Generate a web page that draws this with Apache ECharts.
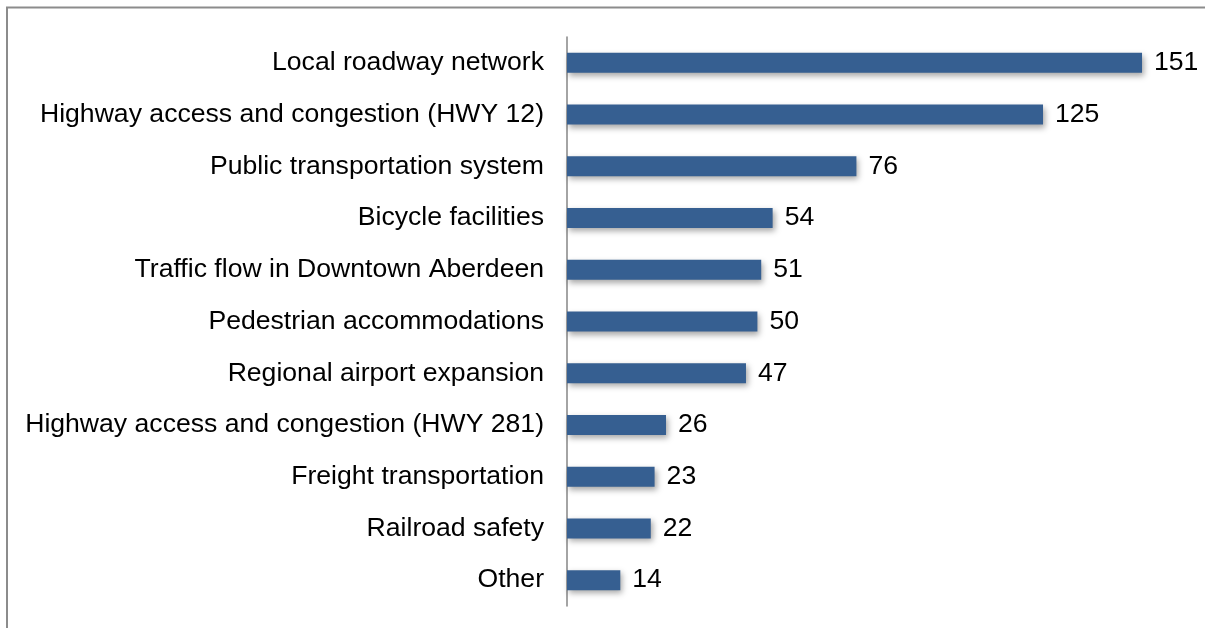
<!DOCTYPE html>
<html>
<head>
<meta charset="utf-8">
<script src="https://cdn.jsdelivr.net/npm/echarts@6/dist/echarts.min.js"></script>
<style>
  html, body { margin: 0; padding: 0; background: #ffffff; }
  #chart { width: 1205px; height: 628px; }
</style>
</head>
<body>
<div id="chart"></div>
<script>
// Transportation issues and number of responses
const categories = [
  'Local roadway network',
  'Highway access and congestion (HWY 12)',
  'Public transportation system',
  'Bicycle facilities',
  'Traffic flow in Downtown Aberdeen',
  'Pedestrian accommodations',
  'Regional airport expansion',
  'Highway access and congestion (HWY 281)',
  'Freight transportation',
  'Railroad safety',
  'Other'
];
const responses = [151, 125, 76, 54, 51, 50, 47, 26, 23, 22, 14];

const chart = echarts.init(document.getElementById('chart'), null, { renderer: 'canvas' });

const font = 'Arial, "Liberation Sans", sans-serif';

chart.setOption({
  animation: false,
  backgroundColor: '#ffffff',
  graphic: [{
    type: 'rect',
    shape: { x: 7, y: 7.5, width: 1400, height: 800 },
    style: { fill: 'none', stroke: '#8c8c8c', lineWidth: 2 },
    silent: true
  }],
  grid: { left: 567, top: 37, width: 609.3, height: 569, containLabel: false },
  xAxis: {
    type: 'value',
    min: 0,
    max: 160,
    show: false
  },
  yAxis: {
    type: 'category',
    data: categories,
    inverse: true,
    axisLine: { show: true, lineStyle: { color: '#868686', width: 1.5 } },
    axisTick: { show: false },
    splitLine: { show: false },
    axisLabel: {
      margin: 23,
      color: '#000000',
      fontSize: 26.6,
      fontFamily: font
    }
  },
  series: [{
    type: 'bar',
    data: responses,
    barWidth: 20,
    itemStyle: {
      color: '#365f91',
      shadowColor: 'rgba(0,0,0,0.35)',
      shadowBlur: 6,
      shadowOffsetX: 2,
      shadowOffsetY: 3
    },
    label: {
      show: true,
      position: 'right',
      distance: 12,
      color: '#000000',
      fontSize: 26.6,
      fontFamily: font
    }
  }]
});
</script>
</body>
</html>
